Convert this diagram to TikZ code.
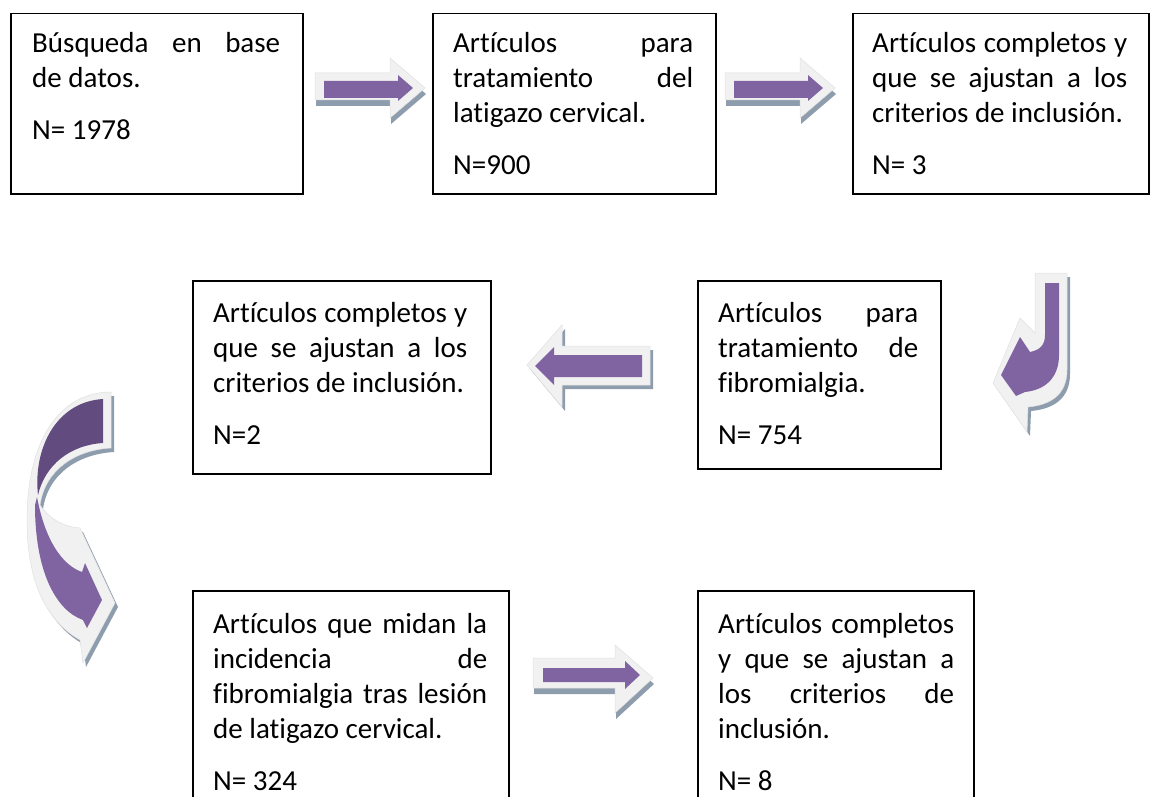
\documentclass[tikz,border=0pt]{standalone}
\usepackage{fontspec}
\setmainfont{Carlito}[Ligatures={NoCommon}]
\definecolor{purp}{HTML}{8064A2}
\definecolor{purpdark}{HTML}{624B7E}
\definecolor{frame}{HTML}{F1F1F1}
\definecolor{shadowc}{HTML}{8E9DAD}
\newcommand\jline[2]{\makebox[#1pt][s]{#2}}
\begin{document}
\begin{tikzpicture}[x=1pt,y=-1pt,
  box/.style={draw=black, line width=1.5pt, rectangle, inner sep=0pt, anchor=north west},
  txt/.style={anchor=base west, inner sep=0pt, font=\fontsize{29}{35}\selectfont},
  outerarrow/.style={fill=frame, draw=frame!85!gray, line width=0.5pt, line join=miter},
  innerarrow/.style={fill=purp, draw=none},
  shadowarrow/.style={fill=shadowc, draw=none}]
\useasboundingbox (0,0) rectangle (1151,797);
\clip (0,0) rectangle (1151,797);
\fill[white] (0,0) rectangle (1151,797);

% boxes
\node[box, minimum width=292pt, minimum height=180pt] (b1) at (10,13) {};
\node[box, minimum width=283pt, minimum height=180pt] (b2) at (432,13) {};
\node[box, minimum width=296pt, minimum height=180pt] (b3) at (852,13) {};
\node[box, minimum width=298pt, minimum height=193pt] (b4) at (192,280) {};
\node[box, minimum width=243pt, minimum height=188pt] (b5) at (697,280) {};
\node[box, minimum width=316pt, minimum height=240pt] (b6) at (192,590) {};
\node[box, minimum width=276pt, minimum height=240pt] (b7) at (697,590) {};

% texts
\node[txt] (t1) at (32,53) {\begin{tabular}[t]{@{}l@{}}\jline{248}{Búsqueda en base}\\ de datos.\\[17pt] N= 1978\end{tabular}};
\node[txt] (t2) at (453,53) {\begin{tabular}[t]{@{}l@{}}\jline{240}{Artículos para}\\ \jline{240}{tratamiento del}\\ latigazo cervical.\\[17pt] N=900\end{tabular}};
\node[txt] (t3) at (872,53) {\begin{tabular}[t]{@{}l@{}}\jline{255}{Artículos completos y}\\ \jline{255}{que se ajustan a los}\\ criterios de inclusión.\\[17pt] N= 3\end{tabular}};
\node[txt] (t4) at (213,322) {\begin{tabular}[t]{@{}l@{}}\jline{254}{Artículos completos y}\\ \jline{254}{que se ajustan a los}\\ criterios de inclusión.\\[17pt] N=2\end{tabular}};
\node[txt] (t5) at (718,322) {\begin{tabular}[t]{@{}l@{}}\jline{200}{Artículos para}\\ \jline{200}{tratamiento de}\\ fibromialgia.\\[17pt] N= 754\end{tabular}};
\node[txt] (t6) at (213,633) {\begin{tabular}[t]{@{}l@{}}\jline{274}{Artículos que midan la}\\ \jline{274}{incidencia de}\\ \jline{274}{fibromialgia tras lesión}\\ de latigazo cervical.\\[17pt] N= 324\end{tabular}};
\node[txt] (t7) at (718,633) {\begin{tabular}[t]{@{}l@{}}\jline{236}{Artículos completos}\\ \jline{236}{y que se ajustan a}\\ \jline{236}{los criterios de}\\ inclusión.\\[17pt] N= 8\end{tabular}};

% straight arrow A (box1 -> box2) and B (box2 -> box3)
\foreach \dx in {0,410}{
\begin{scope}[xshift=\dx pt]
\begin{scope}[shift={(1,6)}]
\fill[shadowarrow] (315,73) -- (390,73) -- (390,58) -- (425,88) -- (390,118) -- (390,100) -- (315,100) -- cycle;
\end{scope}
\path[outerarrow] (315,73) -- (390,73) -- (390,58) -- (425,88) -- (390,118) -- (390,100) -- (315,100) -- cycle;
\path[innerarrow] (324,81) -- (398,81) -- (398,75) -- (413,88) -- (398,101) -- (398,98) -- (324,98) -- cycle;
\end{scope}}

% left arrow D (box5 -> box4)
\fill[shadowarrow] (530,369) -- (565,329) -- (565,350) -- (653,350) -- (653,389) -- (565,389) -- (565,411) -- cycle;
\path[outerarrow] (527,365) -- (562,325) -- (562,346) -- (650,346) -- (650,385) -- (562,385) -- (562,407) -- cycle;
\path[innerarrow] (535,366) -- (554,347) -- (554,355) -- (642,355) -- (642,377) -- (554,377) -- (554,385) -- cycle;

% bottom arrow E (box6 -> box7)
\begin{scope}[shift={(1,6)}]
\fill[shadowarrow] (533,658) -- (615,658) -- (615,645) -- (653,678) -- (615,713) -- (615,688) -- (533,688) -- cycle;
\end{scope}
\path[outerarrow] (533,658) -- (615,658) -- (615,645) -- (653,678) -- (615,713) -- (615,688) -- (533,688) -- cycle;
\path[innerarrow] (543,668) -- (625,668) -- (625,661) -- (640,675) -- (625,689) -- (625,682) -- (543,682) -- cycle;

% J arrow C (box3 -> box5)
\begin{scope}[shift={(3,4)}]
\fill[shadowarrow] (1035,273) -- (1067,273) -- (1067,370) .. controls (1067,395) and (1050,405) .. (1028,407) -- (1027,432) -- (993,383) -- (1020,318) -- (1035,333) -- cycle;
\end{scope}
\path[outerarrow] (1035,273) -- (1067,273) -- (1067,370) .. controls (1067,395) and (1050,405) .. (1028,407) -- (1027,432) -- (993,383) -- (1020,318) -- (1035,333) -- cycle;
\path[innerarrow] (1045,283) -- (1059,283) -- (1059,355) .. controls (1059,378) and (1045,390) .. (1025,392) -- (1016,396) -- (1001,375) -- (1020,337) -- (1030,352) .. controls (1040,350) and (1045,345) .. (1045,335) -- cycle;

% curved arrow F (box4 -> box6)
\begin{scope}[shift={(3,4)}]
\fill[shadowarrow] (111,392) -- (111,448) .. controls (75,450) and (45,470) .. (40,505) .. controls (50,520) and (65,527) .. (80,528) -- (115,603) -- (83,663) -- (80,640) .. controls (45,620) and (27,580) .. (27,520) .. controls (27,440) and (60,392) .. (111,392) -- cycle;
\end{scope}
\path[outerarrow] (111,392) -- (111,448) .. controls (75,450) and (45,470) .. (40,505) .. controls (50,520) and (65,527) .. (80,528) -- (115,603) -- (83,663) -- (80,640) .. controls (45,620) and (27,580) .. (27,520) .. controls (27,440) and (60,392) .. (111,392) -- cycle;
\path[fill=purpdark] (103,399) -- (103,443) .. controls (70,445) and (45,465) .. (38,495) .. controls (33,450) and (55,402) .. (103,399) -- cycle;
\path[innerarrow] (37,497) .. controls (45,540) and (62,565) .. (82,572) -- (85,563) -- (102,600) -- (87,628) -- (83,620) .. controls (55,610) and (35,570) .. (35,505) -- cycle;
\end{tikzpicture}
\end{document}
